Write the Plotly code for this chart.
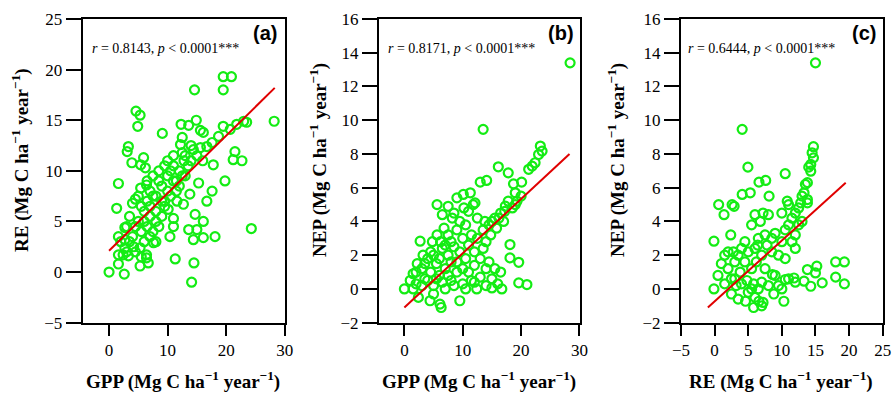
import plotly.graph_objects as go

# ---------------- data ----------------
# Panel (a): GPP vs RE
gpp_a = [0.0, 2.6, 1.6, 1.6, 2.4, 3.3, 5.3, 6.4, 6.7, 11.3, 14.5, 14.1,
         1.3, 1.6, 2.7, 2.7, 2.7, 4.2, 5.3, 6.4, 7.6,
         13.6, 14.7, 16.1, 15.0, 16.1, 14.4, 18.1, 24.3,
         10.4, 11.0, 11.0, 10.1,
         16.7, 17.6, 13.8, 12.7, 11.6,
         1.6, 5.4, 6.4, 15.3, 19.8,
         3.9, 5.4, 5.9, 6.2, 3.3, 3.1,
         4.6, 5.3, 4.9, 9.1,
         14.6, 19.5, 19.5, 20.9, 28.2,
         12.3, 13.6, 14.9, 15.6, 16.1,
         12.5, 12.2, 12.5, 12.8,
         14.4, 15.6, 16.7, 17.6, 18.7, 19.5, 20.7, 21.8, 23.0, 23.5,
         21.5, 22.7, 21.2, 17.8,
         3.5, 4.0, 4.5, 5.0, 5.5, 6.0, 6.5, 7.0, 7.5, 8.0, 8.5, 9.0, 9.5, 10.0,
         10.5, 11.0, 11.5, 12.0, 11.0, 10.0, 9.5, 8.5, 7.5, 6.5, 3.0, 4.0, 4.5,
         5.0, 5.5, 6.0, 6.5, 7.0, 7.5, 8.0, 8.5, 9.0, 9.5, 10.5, 11.5, 12.0, 13.0,
         13.5, 14.0, 15.0, 16.0, 2.0, 3.0, 3.5, 4.5, 5.5, 7.0, 8.0, 6.0, 7.0, 8.0,
         9.0, 10.0, 11.0, 12.5, 13.0, 14.0]
re_a = [0.0, -0.2, 0.8, 1.7, 1.7, 1.6, 0.6, 1.4, 0.9, 1.3, 0.9, -1.0,
        6.3, 3.5, 4.4, 3.2, 2.4, 2.5, 2.4, 1.7, 2.9,
        4.2, 5.7, 5.0, 4.2, 3.4, 3.2, 3.5, 4.3,
        3.5, 4.5, 5.3, 6.2,
        7.0, 8.0, 7.7, 6.7, 7.0,
        8.75, 8.3, 8.6, 8.8, 9.0,
        10.8, 10.6, 11.3, 10.3, 12.4, 11.9,
        15.9, 15.5, 14.4, 13.7,
        18.0, 18.0, 19.3, 19.3, 14.9,
        14.6, 14.5, 15.0, 14.0, 13.8,
        13.3, 12.6, 11.8, 11.0,
        12.1, 12.3, 12.4, 12.8, 13.4, 14.4, 14.1, 14.6, 14.9, 14.8,
        11.9, 11.0, 11.1, 10.6,
        5.5, 6.8, 7.2, 7.5, 6.5, 5.0, 7.0, 8.0, 7.5, 6.0, 9.0, 8.5, 7.0, 9.5,
        10.0, 10.5, 9.0, 10.0, 11.5, 11.0, 10.5, 10.0, 9.5, 9.0, 4.5, 3.5, 4.5,
        5.0, 4.0, 3.0, 4.5, 5.5, 4.0, 5.0, 4.5, 5.5, 6.5, 7.5, 8.0, 8.5, 9.5,
        10.5, 11.0, 11.5, 11.0, 3.0, 2.0, 3.0, 2.0, 1.5, 3.5, 3.0, 6.0, 6.5, 7.5,
        7.0, 8.0, 9.0, 9.5, 11.5, 12.5]

# Panel (b): GPP vs NEP
gpp_b = [0.0, 1.0, 1.5, 2.0, 2.4, 2.7, 3.0, 3.5, 4.0, 4.4, 4.5, 5.0, 5.0, 5.5, 5.6, 5.6,
         6.0, 6.1, 6.3, 6.5, 6.5, 7.0, 7.0, 7.5, 7.5, 7.5, 8.0, 8.0, 8.5, 8.5, 9.0, 9.0,
         9.0, 9.5, 9.5, 9.5, 10.0, 10.0, 10.1, 10.5, 10.5, 11.0, 11.0, 11.3, 11.5, 11.5,
         12.0, 12.1, 12.0, 12.4, 12.5, 13.0, 13.0, 13.5, 13.5, 13.5, 14.0, 14.1, 14.0,
         14.5, 14.5, 15.0, 15.0, 15.0, 15.5, 15.5, 16.0, 16.1, 16.5, 16.7, 16.5, 17.0,
         17.3, 17.8, 17.8, 18.1, 18.1, 18.5, 18.7, 19.0, 19.3, 19.6, 19.6, 20.1, 21.0,
         21.3, 21.9, 22.4, 23.0, 23.3, 23.6, 28.4,
         1.5, 2.0, 3.0, 3.5, 4.0, 4.5, 5.0, 5.5, 6.0, 6.5, 7.0, 7.5, 8.0, 8.5, 9.0,
         10.0, 10.5, 11.0, 12.0, 13.0, 14.0, 12.5, 11.8, 10.2, 8.2, 6.8, 3.2, 2.2, 4.8,
         6.2, 14.8, 15.8, 16.2, 17.2, 13.8, 19.0, 20.0]
nep_b = [0.0, 0.5, 0.9, 0.3, -0.5, 2.83, 1.2, 0.6, 1.8, -0.7, 1.0, 2.0, 0.2, 1.5, 3.2, 5.0,
         0.8, -0.9, -1.1, 2.4, 4.4, 1.2, 0.0, 3.2, 4.9, 2.0, 0.5, 1.6, 2.5, 4.5, 5.4, 3.5,
         1.0, -0.7, 2.2, 4.0, 3.0, 0.3, 5.6, 1.8, 3.8, 2.6, 4.6, 5.7, 0.5, 3.2,
         1.4, 5.1, 2.2, 0.0, 3.0, 6.33, 0.7, 9.46, 2.4, 3.5, 0.2, 6.43, 2.8,
         3.8, 1.6, 0.06, 4.0, 0.6, 4.2, 1.2, 0.3, 7.24, 4.5, 0.0, 1.0, 4.0,
         4.91, 5.2, 6.88, 2.63, 1.84, 4.8, 6.23, 5.7, 5.2, 1.58, 0.36, 6.33, 0.26,
         7.09, 7.28, 7.48, 7.97, 8.47, 8.17, 13.4,
         0.0, 1.0, 0.2, 1.5, 0.5, 2.2, -0.3, 0.6, 1.8, 0.4, 2.6, 0.8, 2.8, 0.2, 1.6,
         1.2, 0.0, 1.0, 0.4, 1.8, 1.2, 4.2, 5.0, 4.8, 4.2, 3.6, 2.0, 1.5, 2.8,
         2.8, 3.2, 3.6, 4.2, 4.6, 4.0, 5.0, 5.5]

# Panel (c): RE vs NEP
re_c = [-0.1, -0.1, 0.6, 1.4, 2.6, 2.9, 2.4, 4.1, 5.3, 4.1, 4.95, 6.6, 7.6, 8.1, 10.5, 10.8,
        15.0, 14.7, 14.5, 14.7, 14.3, 14.0, 14.3, 13.5, 13.8, 13.3, 13.0, 13.8, 12.8, 13.8,
        18.0, 19.3, 18.0, 19.3, 15.2, 13.8, 15.0, 16.0, 14.3, 13.3, 11.8, 10.5, 8.6,
        4.6, 6.6, 5.8, 10.3, 7.0, 7.2, 3.5, 2.5,
        0.5, 1.0, 1.5, 1.5, 2.0, 2.5, 2.8, 3.0, 3.2, 3.5, 3.8, 4.0, 4.0, 4.5, 4.8, 5.0,
        5.0, 5.5, 5.5, 5.8, 6.0, 6.0, 6.2, 6.5, 6.5, 6.8, 7.0, 7.0, 7.2, 7.5, 7.5, 7.8,
        8.0, 8.0, 8.5, 8.5, 9.0, 9.0, 9.5, 10.0, 10.0, 10.0, 10.5, 10.5, 11.0, 11.0,
        11.5, 11.5, 12.0, 12.0, 12.5, 12.5, 12.0, 13.0, 11.0, 12.0, 9.5, 8.8, 5.5, 6.0,
        3.0, 2.0, 4.5, 6.4]
nep_c = [2.83, 0.0, 5.0, 4.4, 5.0, 4.9, 3.2, 5.6, 5.7, 9.46, 7.22, 6.33, 6.43, 5.5, 6.83, 5.2,
         13.4, 8.43, 8.07, 7.77, 7.38, 7.22, 6.98, 6.2, 6.3, 5.7, 5.5, 5.3, 5.1, 5.1,
         1.6, 1.6, 0.7, 0.3, 1.35, 1.15, 0.95, 0.36, 0.16, 0.46, 0.65, 0.56, 0.85,
         -0.73, -0.73, -1.1, -0.73, -1.0, -0.8, -0.6, -0.3,
         0.8, 1.5, 2.0, 0.3, 1.2, 0.6, 2.2, 1.6, 0.2, 2.0, 1.0, 2.4, 0.3, 1.6, 0.5, 2.2,
         -0.2, 1.2, 3.8, 0.3, 2.4, 4.4, 1.6, 0.0, 3.0, 4.0, 2.0, 0.4, 4.5, 1.2, 3.2, 2.6,
         0.2, 4.4, 2.2, 3.0, 0.8, 3.3, 2.0, 0.0, 2.8, 4.5, 3.5, 1.8, 3.8, 5.0,
         4.2, 2.8, 4.5, 3.2, 4.8, 3.8, 2.4, 4.0, 0.6, 0.4, 0.2, -0.3, 0.0, -0.5,
         0.6, 2.2, 2.8, 2.6]

# regression lines (endpoints)
fit_a_x = [0.0, 28.3]
fit_a_y = [2.1, 18.2]
fit_b_x = [0.0, 28.3]
fit_b_y = [-1.1, 8.0]
fit_c_x = [-1.0, 19.5]
fit_c_y = [-1.1, 6.3]

stat_html = ["<i>r</i> = 0.8143, <i>p</i> < 0.0001***",
             "<i>r</i> = 0.8171, <i>p</i> < 0.0001***",
             "<i>r</i> = 0.6444, <i>p</i> < 0.0001***"]
panel_labels = ["(a)", "(b)", "(c)"]
unit = " (Mg C ha<sup>−1</sup> year<sup>−1</sup>)"
x_titles = ["GPP" + unit, "GPP" + unit, "RE" + unit]
y_titles = ["RE" + unit, "NEP" + unit, "NEP" + unit]

# ---------------- figure ----------------
W, H = 893, 394
GREEN = "#14ec14"
RED = "#e00000"
SERIF = "Liberation Serif, Times New Roman, serif"


def px(x):
    return x / W


def py(y):
    return 1 - y / H


fig = go.Figure()

panels = [
    (gpp_a, re_a, fit_a_x, fit_a_y),
    (gpp_b, nep_b, fit_b_x, fit_b_y),
    (re_c, nep_c, fit_c_x, fit_c_y),
]
for i, (xs, ys, fx, fy) in enumerate(panels):
    ax = "" if i == 0 else str(i + 1)
    fig.add_trace(go.Scatter(
        x=xs, y=ys, mode="markers", xaxis="x" + ax, yaxis="y" + ax,
        marker=dict(symbol="circle-open", size=9, color=GREEN, line=dict(width=2.2, color=GREEN)),
        showlegend=False, hoverinfo="skip"))
    fig.add_trace(go.Scatter(
        x=fx, y=fy, mode="lines", xaxis="x" + ax, yaxis="y" + ax,
        line=dict(color=RED, width=2), showlegend=False, hoverinfo="skip"))

# axis geometry (pixels)
dom_x = [(82.7, 285.0), (379.0, 580.0), (681.0, 882.7)]
dom_y = (19.0, 322.7)
x_ranges = [[-4.5, 30.05], [-4.35, 30.1], [-5, 25]]
x_dticks = [10, 10, 5]
y_ranges = [[-5, 25], [-2, 16], [-2, 16]]
y_dticks = [5, 2, 2]

common = dict(showline=True, linecolor="black", linewidth=2, mirror=True,
              ticks="outside", tickcolor="black", tickwidth=2,
              showgrid=False, zeroline=False, automargin=False,
              tickfont=dict(family=SERIF, size=17, color="black"))

for i in range(3):
    ax = "" if i == 0 else str(i + 1)
    fig.update_layout(**{
        "xaxis" + ax: dict(domain=[px(dom_x[i][0]), px(dom_x[i][1])], range=x_ranges[i],
                           dtick=x_dticks[i], tick0=0, ticklen=11,
                           anchor="y" + ax, **common),
        "yaxis" + ax: dict(domain=[py(dom_y[1]), py(dom_y[0])], range=y_ranges[i],
                           dtick=y_dticks[i], tick0=0, ticklen=15,
                           anchor="x" + ax, **common),
    })

ann = []
stat_x = [90, 386, 686]
lab_x = [279, 576, 878]
xt_x = [182.5, 479, 781]
yt_x = [20, 318, 616]
for i in range(3):
    ann.append(dict(x=px(stat_x[i]), y=py(48), xref="paper", yref="paper",
                    text=stat_html[i], showarrow=False, xanchor="left", yanchor="middle",
                    font=dict(family=SERIF, size=14, color="black")))
    ann.append(dict(x=px(lab_x[i]), y=py(33), xref="paper", yref="paper",
                    text="<b>" + panel_labels[i] + "</b>", showarrow=False,
                    xanchor="right", yanchor="middle",
                    font=dict(family="Liberation Sans, Arial, sans-serif", size=20, color="black")))
    ann.append(dict(x=px(xt_x[i]), y=py(380), xref="paper", yref="paper",
                    text="<b>" + x_titles[i] + "</b>", showarrow=False,
                    xanchor="center", yanchor="middle",
                    font=dict(family=SERIF, size=19, color="black")))
    ann.append(dict(x=px(yt_x[i]), y=py(160), xref="paper", yref="paper",
                    text="<b>" + y_titles[i] + "</b>", showarrow=False, textangle=-90,
                    xanchor="center", yanchor="middle",
                    font=dict(family=SERIF, size=19, color="black")))

fig.update_layout(width=W, height=H, autosize=False,
                  margin=dict(l=0, r=0, t=0, b=0),
                  paper_bgcolor="white", plot_bgcolor="white",
                  annotations=ann)

fig.write_html("out.html", config={"displayModeBar": False},
               post_script="document.body.style.margin='0';document.body.style.overflow='hidden';")
